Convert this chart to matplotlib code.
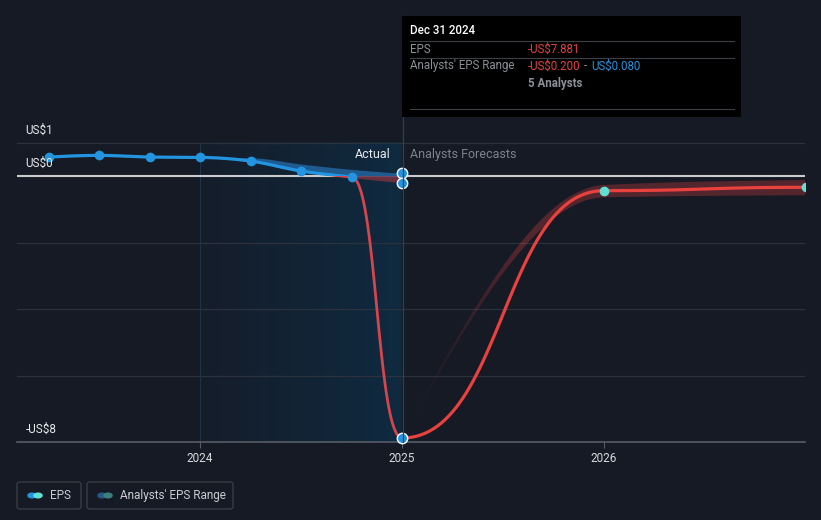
import numpy as np
import matplotlib
matplotlib.use("Agg")
import matplotlib.pyplot as plt
from matplotlib.patches import Rectangle, FancyBboxPatch, Circle
from matplotlib.lines import Line2D

plt.rcParams['font.family'] = ['Roboto', 'DejaVu Sans']

# ---------------- data ----------------
actual_dates = [2023.25, 2023.5, 2023.75, 2024.0, 2024.25, 2024.5, 2024.75, 2025.0]
actual_eps = [0.57, 0.62, 0.57, 0.56, 0.45, 0.15, -0.03, -7.881]

past_range_dates = [2024.0, 2024.25, 2024.5, 2024.75, 2025.0]
past_range_high = [0.56, 0.55, 0.36, 0.20, 0.08]
past_range_low = [0.56, 0.45, 0.15, -0.05, -0.20]

fc_dates = [2025.0, 2026.0, 2027.0]
fc_eps = [-7.881, -0.44, -0.34]
fc_high = [-7.881, -0.27, -0.12]
fc_low = [-7.881, -0.64, -0.58]

ytick_vals = [1, 0, -8]
ytick_labels = ["US$1", "US$0", "-US$8"]
xtick_vals = [2024, 2025, 2026]
xtick_labels = ["2024", "2025", "2026"]
grid_vals = [1, -2, -4, -6]

BG = '#151a24'
BLUE = '#2394e0'
RED = '#e8413e'
CYAN = '#5fe0d3'

# ---------------- curve helpers ----------------
def bump(xs, ys, n=60):
    X, Y = [], []
    for i in range(len(xs) - 1):
        x0, x1, y0, y1 = xs[i], xs[i + 1], ys[i], ys[i + 1]
        xm = (x0 + x1) / 2
        t = np.linspace(0, 1, n)
        bx = (1-t)**3*x0 + 3*(1-t)**2*t*xm + 3*(1-t)*t**2*xm + t**3*x1
        by = (1-t)**3*y0 + 3*(1-t)**2*t*y0 + 3*(1-t)*t**2*y1 + t**3*y1
        if i > 0:
            bx, by = bx[1:], by[1:]
        X.extend(bx); Y.extend(by)
    return np.array(X), np.array(Y)

def monotone(xs, ys, n=80):
    xs = np.asarray(xs, float); ys = np.asarray(ys, float)
    h = np.diff(xs); s = np.diff(ys) / h
    m = np.zeros(len(xs))
    for i in range(1, len(xs) - 1):
        p = (s[i-1]*h[i] + s[i]*h[i-1]) / (h[i-1] + h[i])
        m[i] = (np.sign(s[i-1]) + np.sign(s[i])) * min(abs(s[i-1]), abs(s[i]), 0.5*abs(p))
    m[0] = (3*s[0] - m[1]) / 2 if len(xs) > 2 else s[0]
    m[-1] = (3*s[-1] - m[-2]) / 2 if len(xs) > 2 else s[-1]
    X, Y = [], []
    for i in range(len(xs) - 1):
        t = np.linspace(0, 1, n)
        h00 = 2*t**3 - 3*t**2 + 1; h10 = t**3 - 2*t**2 + t
        h01 = -2*t**3 + 3*t**2; h11 = t**3 - t**2
        yy = h00*ys[i] + h10*h[i]*m[i] + h01*ys[i+1] + h11*h[i]*m[i+1]
        xx = xs[i] + t*h[i]
        if i > 0:
            xx, yy = xx[1:], yy[1:]
        X.extend(xx); Y.extend(yy)
    return np.array(X), np.array(Y)

# ---------------- figure ----------------
W, H = 821, 520
fig = plt.figure(figsize=(W/100, H/100), dpi=100, facecolor=BG)
ax_l, ax_r, ax_t, ax_b = 17, 805, 120, 442
ax = fig.add_axes([ax_l/W, 1 - ax_b/H, (ax_r-ax_l)/W, (ax_b-ax_t)/H])
ax.set_facecolor(BG)
XMIN, XMAX = 2023.094, 2026.995
YMIN = -8.0
YMAX = (176 - ax_t) / 33.25
ax.set_xlim(XMIN, XMAX)
ax.set_ylim(YMIN, YMAX)
for sp in ax.spines.values():
    sp.set_visible(False)

# highlight (actual period) gradient
grad = np.linspace(0, 1, 256)
c0 = np.array([21, 29, 42]) / 255
c1 = np.array([15, 42, 64]) / 255
img = (c0[None, :] * (1 - grad[:, None]) + c1[None, :] * grad[:, None])[None, :, :]
ax.imshow(img, extent=[2024.0, 2025.0, YMIN, grid_vals[0]], aspect='auto', zorder=0.5, interpolation='bilinear')
ax.plot([2024.0, 2024.0], [YMIN, grid_vals[0]], color='#1d3347', lw=0.8, zorder=0.6)

# grid
for g in grid_vals:
    ax.axhline(g, color='#2c323d', lw=0.9, zorder=1)
ax.axhline(YMIN, color='#565c66', lw=1.2, zorder=1, clip_on=False)
ax.axhline(0, color='#c9cbce', lw=1.5, zorder=2)

# past range band
bx_, bh_ = monotone(past_range_dates, past_range_high)
_, bl_ = monotone(past_range_dates, past_range_low)
fb1 = ax.fill_between(bx_, bl_, bh_, color='#1f5b8e', alpha=1.0, lw=0, zorder=3)
fb1.set_clip_path(Rectangle((XMIN, 0), XMAX - XMIN, 20, transform=ax.transData))
fb2 = ax.fill_between(bx_, bl_, bh_, color='#c0393f', alpha=0.5, lw=0, zorder=3)
fb2.set_clip_path(Rectangle((XMIN, -20), XMAX - XMIN, 20, transform=ax.transData))

# forecast band with fade
fx_, fh_ = monotone(fc_dates, fc_high)
_, fl_ = monotone(fc_dates, fc_low)
poly = ax.fill_between(fx_, fl_, fh_, color='none', lw=0)
xs_g = np.linspace(fc_dates[0], fc_dates[-1], 512)
alpha = 0.02 + 0.28 * np.clip((xs_g - fc_dates[0]) / 0.58, 0, 1) ** 1.2
rgba = np.zeros((1, 512, 4))
rgba[..., 0] = 0.91; rgba[..., 1] = 0.25; rgba[..., 2] = 0.26
rgba[0, :, 3] = alpha
bim = ax.imshow(rgba, extent=[fc_dates[0], fc_dates[-1], YMIN, YMAX], aspect='auto', zorder=3,
                interpolation='bilinear')
bim.set_clip_path(poly.get_paths()[0], transform=ax.transData)
ax.set_xlim(XMIN, XMAX); ax.set_ylim(YMIN, YMAX)

# actual line: blue above 0, red below
lx, ly = monotone(actual_dates[:-1], actual_eps[:-1])
l1, = ax.plot(lx, ly, color=BLUE, lw=2.3, zorder=4, solid_capstyle='round')
l1.set_clip_path(Rectangle((XMIN, 0), XMAX - XMIN, 20, transform=ax.transData))
l2, = ax.plot(lx, ly, color='#d4454c', lw=2.0, zorder=4)
l2.set_clip_path(Rectangle((XMIN, -20), XMAX - XMIN, 20, transform=ax.transData))
dx, dy = bump(actual_dates[-2:], actual_eps[-2:])
ax.plot(dx, dy, color='#d4454c', lw=2.0, zorder=4)

# forecast line
fxl, fyl = bump(fc_dates, fc_eps)
ax.plot(fxl, fyl, color=RED, lw=2.3, zorder=5)

# markers
ax.plot(actual_dates[:-1], actual_eps[:-1], 'o', color=BLUE, ms=7, mec='none', zorder=6)
ax.plot([actual_dates[-1]], [actual_eps[-1]], 'o', color=BLUE, ms=7.5, mec='white', mew=1.0, zorder=7, clip_on=False)
ax.plot([past_range_dates[-1]] * 2, [past_range_high[-1], past_range_low[-1]], 'o', color=BLUE, ms=7.5,
        mec='white', mew=1.0, zorder=7)
ax.plot(fc_dates[1:], fc_eps[1:], 'o', color=CYAN, ms=7, mec='none', zorder=7)

# ticks
ax.set_yticks([])
ax.set_xticks(xtick_vals)
ax.set_xticklabels(xtick_labels)
ax.tick_params(axis='x', colors='#565c66', length=4, width=0.8, pad=3, labelsize=8.5, labelcolor='#d8dadd')

for v, lab in zip(ytick_vals, ytick_labels):
    ax.annotate(lab, xy=(0, v), xycoords=('axes fraction', 'data'), xytext=(6, 9.0),
                textcoords='offset points', color='#e6e8ea', fontsize=8.5, va='center', ha='left', zorder=8)

# Actual / Analysts Forecasts labels
ax.annotate("Actual", xy=(2025.0, 0), xytext=(-8, 15.5), textcoords='offset points', ha='right', va='center',
            color='#e8e9eb', fontsize=9, zorder=8)
ax.annotate("Analysts Forecasts", xy=(2025.0, 0), xytext=(6, 15.5), textcoords='offset points', ha='left',
            va='center', color='#7d838c', fontsize=9, zorder=8)

# vertical cursor line
def fx(p): return p / W
def fy(p): return 1 - p / H
fig.add_artist(Line2D([fx(402.5), fx(402.5)], [fy(16), fy(442)], color='#284258', lw=0.9, zorder=1))

# tooltip
fig.add_artist(Rectangle((fx(402), fy(117)), (741 - 402) / W, (117 - 16) / H, facecolor='black',
                         edgecolor='none', zorder=10))
for yy in [41.5, 58, 109]:
    fig.add_artist(Line2D([fx(410), fx(734)], [fy(yy), fy(yy)], color='#3c3f44', lw=0.8, zorder=11))
fig.text(fx(410), fy(31), "Dec 31 2024", color='white', fontsize=8.3, fontweight='medium', va='center', zorder=12)
fig.text(fx(410), fy(49.5), "EPS", color='#8b9097', fontsize=8.3, va='center', zorder=12)
fig.text(fx(528), fy(49.5), "-US$7.881", color='#e8413e', fontsize=8.3, va='center', zorder=12)
fig.text(fx(410), fy(66), "Analysts' EPS Range", color='#8b9097', fontsize=8.3, va='center', zorder=12)
fig.text(fx(528), fy(66), "-US$0.200", color='#e8413e', fontsize=8.3, va='center', zorder=12)
fig.text(fx(584), fy(66), "-", color='#8b9097', fontsize=8.3, va='center', zorder=12)
fig.text(fx(591), fy(66), "US$0.080", color='#2394e0', fontsize=8.3, va='center', zorder=12)
fig.text(fx(528), fy(83), "5 Analysts", color='#8b9097', fontsize=8.3, fontweight='bold', va='center', zorder=12)

# legend
def legend_box(x0, x1, label, c1, c2, tx):
    fig.add_artist(FancyBboxPatch((fx(x0), fy(509)), (x1 - x0) / W, (509 - 482) / H,
                                  boxstyle='round,pad=0,rounding_size=0.004', facecolor='none',
                                  edgecolor='#3a3f48', lw=0.9, zorder=5))
    fig.add_artist(Circle((fx(x0 + 15), fy(495.5)), 4.8 / W, facecolor=c1, edgecolor='none', zorder=6,
                          transform=fig.transFigure))
    fig.add_artist(Circle((fx(x0 + 21), fy(495.5)), 4.8 / W, facecolor=c2, edgecolor='none', zorder=7,
                          transform=fig.transFigure))
    fig.text(fx(tx), fy(495.5), label, color='#c9ccd1', fontsize=8.5, va='center', zorder=8)

legend_box(17, 81, "EPS", BLUE, CYAN, 50)
legend_box(87, 233, "Analysts' EPS Range", '#245a88', '#3d7f80', 120)

fig.savefig("out.png", dpi=100, facecolor=BG)
